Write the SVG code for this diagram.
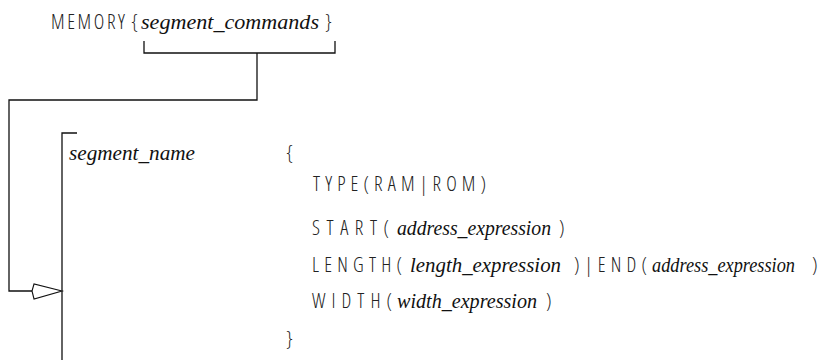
<svg xmlns="http://www.w3.org/2000/svg" width="820" height="360" viewBox="0 0 820 360">
<style>
.k{font-family:"Open Sans","Liberation Sans",sans-serif;font-stretch:condensed;font-weight:300;font-size:20px;fill:#222}
.i{font-family:"Liberation Serif","DejaVu Serif",serif;font-style:italic;font-size:20px;fill:#111}
.l{fill:none;stroke:#111;stroke-width:1.3}
.a{fill:#fff;stroke:#111;stroke-width:1.1}
</style>
<rect width="820" height="360" fill="#fff"/>
<g id="memory">
<text class="k" x="51" y="29" textLength="74" lengthAdjust="spacing">MEMORY</text>
<text class="k" x="131" y="29">{</text>
<text class="i" x="141" y="29" textLength="178" lengthAdjust="spacingAndGlyphs">segment_commands</text>
<text class="k" x="325" y="29">}</text>
</g>
<g id="segment">
<path class="l" d="M77,133 H62 V360"/>
<text class="i" x="69" y="160" textLength="126" lengthAdjust="spacingAndGlyphs">segment_name</text>
<text class="k" x="286" y="160">{</text>
<text class="k" x="313" y="191" textLength="173" lengthAdjust="spacing">TYPE(RAM|ROM)</text>
<text class="k" x="312" y="235" textLength="77" lengthAdjust="spacing">START(</text>
<text class="i" x="397" y="235" textLength="154" lengthAdjust="spacingAndGlyphs">address_expression</text>
<text class="k" x="559" y="235">)</text>
<text class="k" x="312" y="272" textLength="90" lengthAdjust="spacing">LENGTH(</text>
<text class="i" x="410" y="272" textLength="151" lengthAdjust="spacingAndGlyphs">length_expression</text>
<text class="k" x="574" y="272" textLength="73" lengthAdjust="spacing">)|END(</text>
<text class="i" x="652" y="272" textLength="143" lengthAdjust="spacingAndGlyphs">address_expression</text>
<text class="k" x="812" y="272">)</text>
<text class="k" x="312" y="308" textLength="80" lengthAdjust="spacing">WIDTH(</text>
<text class="i" x="397" y="308" textLength="140" lengthAdjust="spacingAndGlyphs">width_expression</text>
<text class="k" x="546" y="308">)</text>
<text class="k" x="286" y="346">}</text>
</g>
<g id="connectors">
<path class="l" d="M144,41 V53 H335 V41 M257,53 V100 H9 V291 H33"/>
<path class="a" d="M62,291 L34,284 L32,291 L34,299 Z"/>
</g>
</svg>
